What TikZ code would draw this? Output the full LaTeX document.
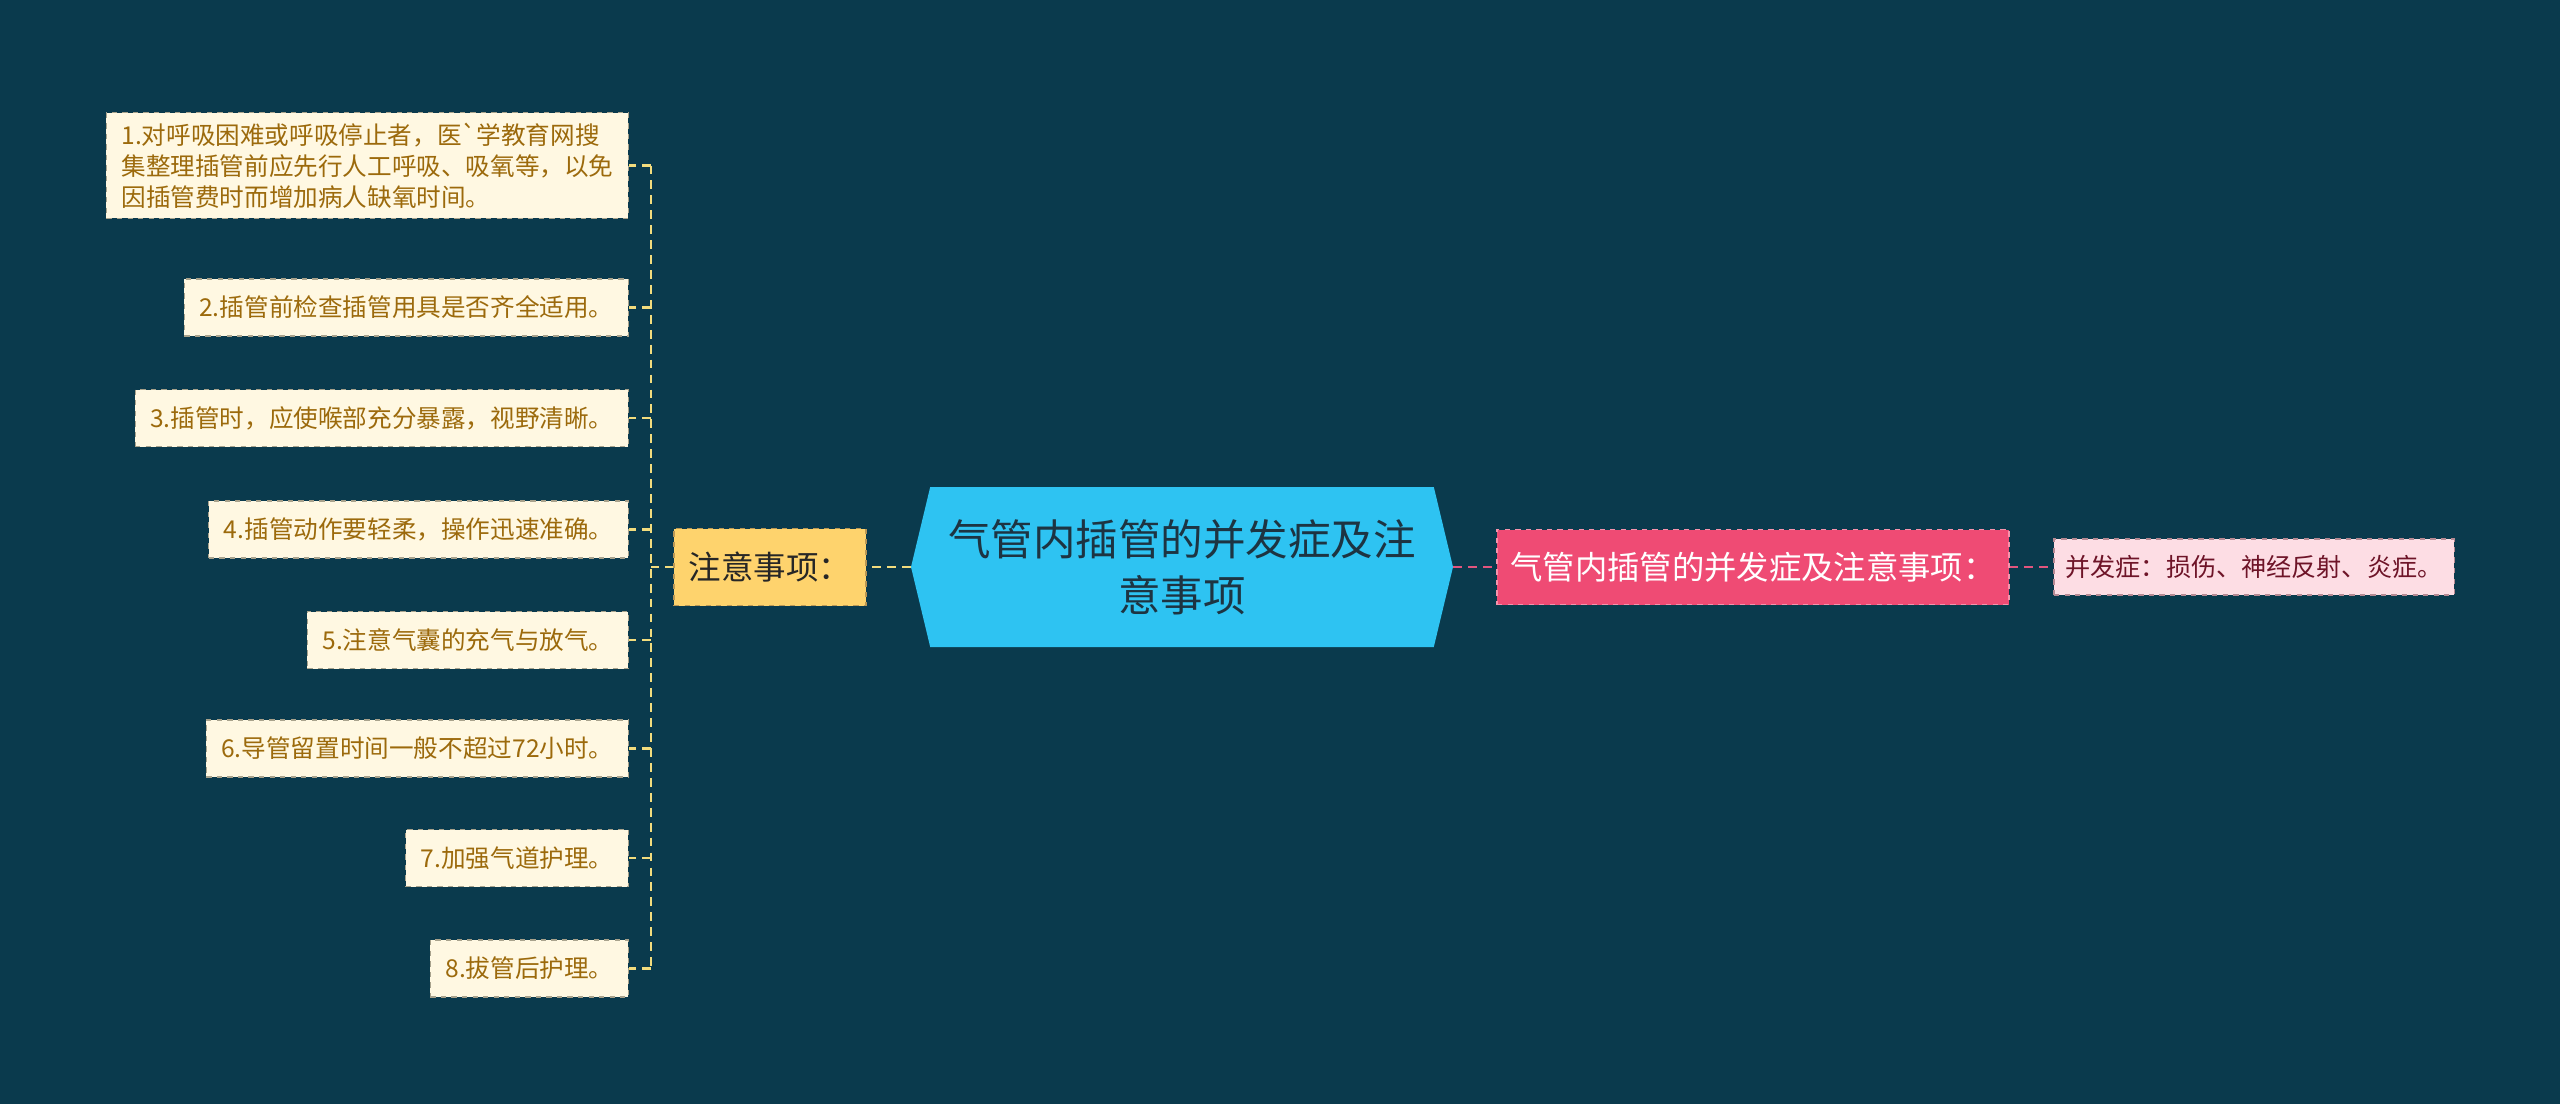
\documentclass[tikz,border=0pt]{standalone}
\usepackage{fontspec}
\usepackage{tikz}
\usetikzlibrary{shapes.symbols}
\newfontfamily\cjk{Noto Sans CJK SC}
\definecolor{bgcol}{HTML}{0A3A4D}
\definecolor{rootcol}{HTML}{2EC3F2}
\definecolor{roottext}{HTML}{1D3442}
\definecolor{attcol}{HTML}{FED36D}
\definecolor{leafcol}{HTML}{FFF8E2}
\definecolor{leaftext}{HTML}{9C6A0C}
\definecolor{leafline}{HTML}{A8A28C}
\definecolor{buscol}{HTML}{F2DC7E}
\definecolor{pinkcol}{HTML}{EF4B74}
\definecolor{pinkline}{HTML}{E2557E}
\definecolor{rosecol}{HTML}{FDDDE4}
\definecolor{rosetext}{HTML}{6E1428}

\begin{document}
\begin{tikzpicture}[
  every node/.style={font=\cjk},
  leaf/.style={anchor=east, fill=leafcol, draw=leafline, dashed, line width=0.6pt,
    text=leaftext, align=left, inner xsep=0.3cm, inner ysep=0.2cm, minimum height=1.14cm,
    font=\cjk\fontsize{14pt}{17.6pt}\selectfont},
  attbox/.style={fill=attcol, draw=leaftext!70, dashed, line width=0.6pt, text=black!85,
    minimum width=3.84cm, minimum height=1.54cm, font=\cjk\fontsize{18.5pt}{20pt}\selectfont},
  rootbox/.style={shape=signal, signal to=east and west, signal pointer angle=153,
    fill=rootcol, text=roottext, align=center, minimum width=10.84cm, minimum height=3.2cm,
    font=\cjk\fontsize{24.2pt}{32pt}\selectfont},
  pinkbox/.style={fill=pinkcol, draw=pinkcol!60!white, dashed, line width=0.6pt, text=white,
    minimum width=10.24cm, minimum height=1.5cm, font=\cjk\fontsize{18.4pt}{20pt}\selectfont},
  rosebox/.style={fill=rosecol, draw=rosetext!50, dashed, line width=0.6pt, text=rosetext,
    minimum width=8cm, minimum height=1.12cm, font=\cjk\fontsize{14.3pt}{17pt}\selectfont},
  branch/.style={draw=buscol, line width=1.4pt, dash pattern=on 5pt off 3.5pt},
  pinkbranch/.style={draw=pinkline, line width=1.4pt, dash pattern=on 5pt off 3.5pt}
]
\fill [bgcol] (0,0) rectangle (51.2,-22.08);
\useasboundingbox (0,0) rectangle (51.2,-22.08);

% centre and right side
\node [rootbox] (root) at (23.64,-11.34) {气管内插管的并发症及注\\意事项};
\node [attbox] (att) at (15.4,-11.34) {注意事项：};
\node [pinkbox] (comp) at (35.06,-11.34) {气管内插管的并发症及注意事项：};
\node [rosebox] (compleaf) at (45.08,-11.34) {并发症：损伤、神经反射、炎症。};

% left leaves
\node [leaf] (leaf1) at (12.58,-3.31) {1.对呼吸困难或呼吸停止者，医`学教育网搜\\集整理插管前应先行人工呼吸、吸氧等，以免\\因插管费时而增加病人缺氧时间。};
\node [leaf] (leaf2) at (12.58,-6.15) {2.插管前检查插管用具是否齐全适用。};
\node [leaf] (leaf3) at (12.58,-8.36) {3.插管时，应使喉部充分暴露，视野清晰。};
\node [leaf] (leaf4) at (12.58,-10.59) {4.插管动作要轻柔，操作迅速准确。};
\node [leaf] (leaf5) at (12.58,-12.80) {5.注意气囊的充气与放气。};
\node [leaf] (leaf6) at (12.58,-14.97) {6.导管留置时间一般不超过72小时。};
\node [leaf] (leaf7) at (12.58,-17.16) {7.加强气道护理。};
\node [leaf] (leaf8) at (12.58,-19.37) {8.拔管后护理。};

% connectors
\coordinate (bus) at (13.02,-11.34);
\draw [branch] (root.west) -- (att.east);
\draw [branch] (att.west) -- (bus);
\draw [branch] (bus |- leaf1.east) -- (bus |- leaf8.east);
\foreach \i in {1,...,8}
  \draw [branch] (bus |- leaf\i.east) -- (leaf\i.east);
\draw [pinkbranch] (root.east) -- (comp.west);
\draw [pinkbranch] (comp.east) -- (compleaf.west);
\end{tikzpicture}
\end{document}
